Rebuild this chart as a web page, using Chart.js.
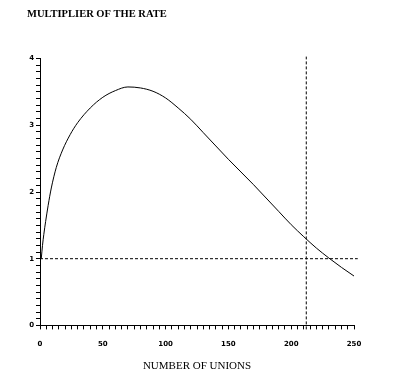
<!DOCTYPE html>
<html>
<head>
<meta charset="utf-8">
<script src="https://cdn.jsdelivr.net/npm/chart.js@4"></script>
<style>
  html, body { margin: 0; padding: 0; background: #fff; }
  #graf { display: block; }
</style>
</head>
<body>
<canvas id="graf" width="401" height="378"></canvas>
<script>
// hodnoty
const pocetUnii = [1, 2, 3, 4.5, 6.5, 9, 13, 18, 24, 30, 40, 50, 60, 70, 80, 90, 100, 110, 120, 130, 140, 150, 160, 170, 180, 190, 200, 210, 220, 230, 240, 250];
const nasobitel = [1.0, 1.2, 1.36, 1.56, 1.8, 2.06, 2.37, 2.63, 2.86, 3.04, 3.26, 3.42, 3.52, 3.575, 3.56, 3.51, 3.41, 3.26, 3.09, 2.89, 2.69, 2.49, 2.3, 2.11, 1.91, 1.71, 1.51, 1.33, 1.16, 1.01, 0.87, 0.74];
const svislaCara = 212;
const vodorovnaCara = 1;
const popiskyX = [0, 50, 100, 150, 200, 250];
const popiskyY = [0, 1, 2, 3, 4];

const krivka = pocetUnii.map((x, i) => ({ x: x, y: nasobitel[i] }));

const ctx = document.getElementById("graf").getContext("2d");
new Chart(ctx, {
    type: "line",
    data: {
        datasets: [
            { data: krivka, borderColor: "#000", borderWidth: 1, pointRadius: 0, cubicInterpolationMode: "monotone", fill: false },
            { data: [{ x: 0, y: vodorovnaCara }, { x: 253, y: vodorovnaCara }], borderColor: "#000", borderWidth: 1, borderDash: [3, 2], pointRadius: 0, clip: false },
            { data: [{ x: svislaCara, y: -0.06 }, { x: svislaCara, y: 4.03 }], borderColor: "#000", borderWidth: 1, borderDash: [3, 2], pointRadius: 0, clip: false }
        ]
    },
    options: {
        responsive: false,
        animation: false,
        devicePixelRatio: 1,
        layout: { padding: { left: 27, right: 47, top: 0, bottom: 5 } },
        plugins: {
            legend: { display: false },
            tooltip: { enabled: false },
            title: {
                display: true,
                text: "MULTIPLIER OF THE RATE",
                align: "start",
                color: "#000",
                font: { family: "Liberation Serif", size: 10.5, weight: "bold" },
                padding: { top: 8, bottom: 38 }
            }
        },
        scales: {
            x: {
                type: "linear",
                min: 0,
                max: 250,
                border: { display: true, color: "#000", width: 1 },
                grid: { drawOnChartArea: false, drawTicks: true, tickLength: 4, color: "#000" },
                ticks: {
                    stepSize: 5,
                    autoSkip: false,
                    maxRotation: 0,
                    padding: 11,
                    color: "#000",
                    font: { family: "DejaVu Sans", size: 7, weight: "bold" },
                    callback: v => popiskyX.includes(v) ? String(v) : ""
                },
                title: {
                    display: true,
                    text: "NUMBER OF UNIONS",
                    color: "#000",
                    font: { family: "Liberation Serif", size: 11, weight: "normal" },
                    padding: { top: 0, bottom: 0 }
                }
            },
            y: {
                type: "linear",
                min: 0,
                max: 4,
                afterFit: s => { s.width = 13; },
                border: { display: true, color: "#000", width: 1 },
                grid: { drawOnChartArea: false, drawTicks: true, tickLength: 4, color: "#000" },
                ticks: {
                    stepSize: 0.1,
                    autoSkip: false,
                    padding: 2,
                    color: "#000",
                    font: { family: "DejaVu Sans", size: 7, weight: "bold" },
                    callback: v => popiskyY.includes(Math.round(v * 10) / 10) ? String(Math.round(v)) : ""
                }
            }
        }
    }
});
</script>
</body>
</html>
